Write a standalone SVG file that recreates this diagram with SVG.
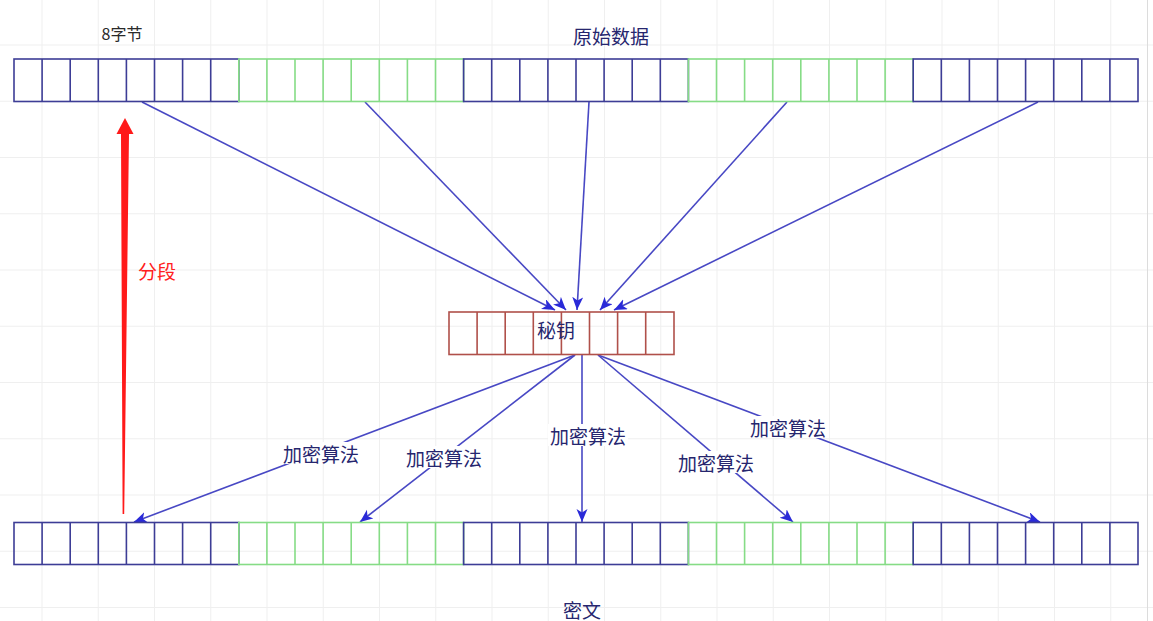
<svg xmlns="http://www.w3.org/2000/svg" width="1153" height="621" viewBox="0 0 1153 621">
<style>
.grid{stroke:#efefef;stroke-width:1}
.seg{fill:none;stroke-width:1.6}
.blue{stroke:#3d3d96}
.green{stroke:#86dc86}
.key{stroke:#b0504a}
.edge{fill:none;stroke:#4848c4;stroke-width:1.6}
.t{font-family:"Noto Sans CJK SC","Liberation Sans",sans-serif;fill:#26266e;text-anchor:middle;dominant-baseline:central}
.lbl{fill:#ffffff}
</style>
<defs>
<marker id="ah" markerUnits="userSpaceOnUse" markerWidth="16" markerHeight="12" refX="13" refY="5.5" orient="auto">
<path d="M0,0 L13,5.5 L0,11 L3.5,5.5 z" fill="#2a2ad8"/>
</marker>
<path id="cells" d="M28.1,0V42.5M56.2,0V42.5M84.3,0V42.5M112.4,0V42.5M140.5,0V42.5M168.6,0V42.5M196.7,0V42.5"/>
</defs>
<rect width="1153" height="621" fill="#ffffff"/>
<g id="grid" class="grid">
<line x1="42" y1="0" x2="42" y2="621"/><line x1="98.25" y1="0" x2="98.25" y2="621"/><line x1="154.5" y1="0" x2="154.5" y2="621"/><line x1="210.75" y1="0" x2="210.75" y2="621"/><line x1="267" y1="0" x2="267" y2="621"/><line x1="323.25" y1="0" x2="323.25" y2="621"/><line x1="379.5" y1="0" x2="379.5" y2="621"/><line x1="435.75" y1="0" x2="435.75" y2="621"/><line x1="492" y1="0" x2="492" y2="621"/><line x1="548.25" y1="0" x2="548.25" y2="621"/><line x1="604.5" y1="0" x2="604.5" y2="621"/><line x1="660.75" y1="0" x2="660.75" y2="621"/><line x1="717" y1="0" x2="717" y2="621"/><line x1="773.25" y1="0" x2="773.25" y2="621"/><line x1="829.5" y1="0" x2="829.5" y2="621"/><line x1="885.75" y1="0" x2="885.75" y2="621"/><line x1="942" y1="0" x2="942" y2="621"/><line x1="998.25" y1="0" x2="998.25" y2="621"/><line x1="1054.5" y1="0" x2="1054.5" y2="621"/><line x1="1110.75" y1="0" x2="1110.75" y2="621"/>
<line x1="0" y1="45" x2="1153" y2="45"/><line x1="0" y1="101.25" x2="1153" y2="101.25"/><line x1="0" y1="157.5" x2="1153" y2="157.5"/><line x1="0" y1="213.75" x2="1153" y2="213.75"/><line x1="0" y1="270" x2="1153" y2="270"/><line x1="0" y1="326.25" x2="1153" y2="326.25"/><line x1="0" y1="382.5" x2="1153" y2="382.5"/><line x1="0" y1="438.75" x2="1153" y2="438.75"/><line x1="0" y1="495" x2="1153" y2="495"/><line x1="0" y1="551.25" x2="1153" y2="551.25"/><line x1="0" y1="607.5" x2="1153" y2="607.5"/>
<line x1="1147.5" y1="0" x2="1147.5" y2="621" stroke="#dcdcdc"/>
</g>
<g id="edges">
<line class="edge" x1="142" y1="102" x2="555" y2="310" marker-end="url(#ah)"/>
<line class="edge" x1="365" y1="102" x2="566" y2="310" marker-end="url(#ah)"/>
<line class="edge" x1="589" y1="102" x2="577" y2="310" marker-end="url(#ah)"/>
<line class="edge" x1="787" y1="102" x2="600" y2="310" marker-end="url(#ah)"/>
<line class="edge" x1="1038" y1="102" x2="614" y2="310" marker-end="url(#ah)"/>
<line class="edge" x1="575" y1="355" x2="134" y2="522" marker-end="url(#ah)"/>
<line class="edge" x1="575" y1="355" x2="360" y2="522" marker-end="url(#ah)"/>
<line class="edge" x1="582" y1="355" x2="582" y2="522" marker-end="url(#ah)"/>
<line class="edge" x1="598" y1="355" x2="793" y2="522" marker-end="url(#ah)"/>
<line class="edge" x1="598" y1="355" x2="1040" y2="522" marker-end="url(#ah)"/>
<g id="edge-labels">
<rect class="lbl" x="281" y="442" width="80" height="22"/><text class="t" x="321" y="453" font-size="19">加密算法</text>
<rect class="lbl" x="404" y="446" width="80" height="22"/><text class="t" x="444" y="457" font-size="19">加密算法</text>
<rect class="lbl" x="548" y="424" width="80" height="22"/><text class="t" x="588" y="435" font-size="19">加密算法</text>
<rect class="lbl" x="676" y="451" width="80" height="22"/><text class="t" x="716" y="462" font-size="19">加密算法</text>
<rect class="lbl" x="748" y="416" width="80" height="22"/><text class="t" x="788" y="427" font-size="19">加密算法</text>
</g>
</g>
<g id="top-seg1" transform="translate(14,59)"><rect class="seg blue" width="224.8" height="42.5"/><use href="#cells" class="seg blue"/></g>
<g id="top-seg2" transform="translate(238.8,59)"><rect class="seg green" width="224.8" height="42.5"/><use href="#cells" class="seg green"/></g>
<g id="top-seg3" transform="translate(463.6,59)"><rect class="seg blue" width="224.8" height="42.5"/><use href="#cells" class="seg blue"/></g>
<g id="top-seg4" transform="translate(688.4,59)"><rect class="seg green" width="224.8" height="42.5"/><use href="#cells" class="seg green"/></g>
<g id="top-seg5" transform="translate(913.2,59)"><rect class="seg blue" width="224.8" height="42.5"/><use href="#cells" class="seg blue"/></g>
<g id="bot-seg1" transform="translate(14,522.5)"><rect class="seg blue" width="224.8" height="42"/><use href="#cells" class="seg blue"/></g>
<g id="bot-seg2" transform="translate(238.8,522.5)"><rect class="seg green" width="224.8" height="42"/><use href="#cells" class="seg green"/></g>
<g id="bot-seg3" transform="translate(463.6,522.5)"><rect class="seg blue" width="224.8" height="42"/><use href="#cells" class="seg blue"/></g>
<g id="bot-seg4" transform="translate(688.4,522.5)"><rect class="seg green" width="224.8" height="42"/><use href="#cells" class="seg green"/></g>
<g id="bot-seg5" transform="translate(913.2,522.5)"><rect class="seg blue" width="224.8" height="42"/><use href="#cells" class="seg blue"/></g>
<g id="key" transform="translate(449,312)"><rect class="seg key" width="225" height="42.5" fill="none"/><use href="#cells" class="seg key"/><text class="t" x="107" y="17" font-size="19">秘钥</text></g>
<g id="segment-arrow">
<polygon points="125,118 133.5,134 129,134 124.2,514 122.6,514 121,134 116.5,134" fill="#ff1a1a"/>
<text class="t" x="157" y="270" font-size="19" style="fill:#ff2020">分段</text>
</g>
<g id="titles">
<text class="t" x="122" y="33" font-size="16" style="fill:#2a2a2a">8字节</text>
<text class="t" x="611" y="35" font-size="19">原始数据</text>
<text class="t" x="582" y="609" font-size="19">密文</text>
</g>
</svg>
